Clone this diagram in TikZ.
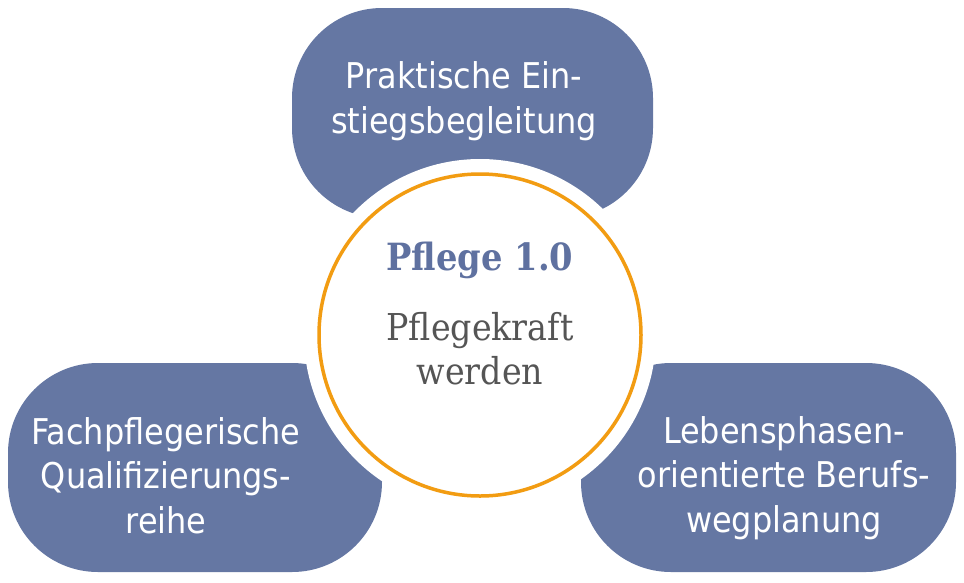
\documentclass[tikz,border=0pt]{standalone}
\usepackage{fontspec}
\setmainfont{DejaVu Sans Condensed}
\newfontfamily\serifc{DejaVu Serif Condensed}
\definecolor{pblue}{HTML}{6577A3}
\definecolor{porange}{HTML}{F29C12}
\definecolor{pgray}{HTML}{555555}
\definecolor{ptitle}{HTML}{5F71A0}
\begin{document}
\begin{tikzpicture}[x=1pt,y=-1pt,
  blob/.style={fill=pblue, rounded corners=90pt},
  lbl/.style={text=white, font=\fontsize{35.5}{44.5}\selectfont, align=center, inner sep=0pt, anchor=base}]
\useasboundingbox (0,0) rectangle (964,582);
\fill[blob] (292,8) rectangle (653,218);
\fill[blob] (8,363) rectangle (382,572);
\fill[blob] (581,363) rectangle (956,572);
\fill[white] (480,335) circle (176pt);
\node[circle, draw=porange, line width=3.5pt, minimum size=322pt, inner sep=0pt] (c) at (480,335) {};
\node[lbl] (t) at (464,133) {Praktische Ein-\\stiegsbegleitung};
\node[lbl] (l) at (166,533) {Fachpflegerische\\Qualifizierungs-\\reihe};
\node[lbl] (r) at (784,532) {Lebensphasen-\\orientierte Berufs-\\wegplanung};
\node[font=\serifc\bfseries\fontsize{37.5}{44}\selectfont, text=ptitle, anchor=base, inner sep=0pt] (h) at (480,270) {Pflege 1.0};
\node[font=\serifc\fontsize{37}{44}\selectfont, text=pgray, align=center, anchor=base, inner sep=0pt] (s) at (480,384) {Pflegekraft\\werden};
\end{tikzpicture}
\end{document}
